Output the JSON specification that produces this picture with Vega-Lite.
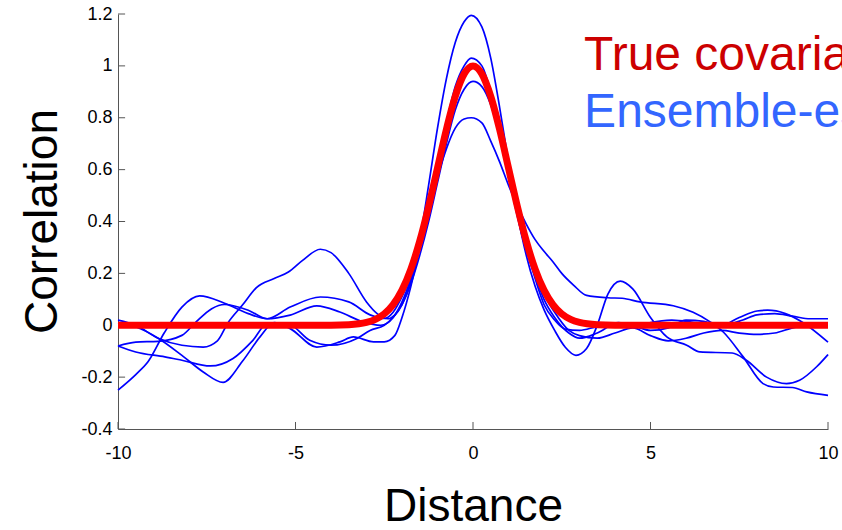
{
"$schema": "https://vega.github.io/schema/vega-lite/v6.json",
"width": 710, "height": 415,
"autosize": {"type": "none"},
"padding": {"left": 118, "top": 14, "right": 14, "bottom": 101},
"background": "white",
"config": {"view": {"stroke": null}, "font": "Liberation Sans"},
"datasets": {
"blue": [
{"s":"1","x":-10,"y":0.02},{"s":"1","x":-9.5,"y":0.0},{"s":"1","x":-8.87,"y":-0.05},{"s":"1","x":-8.2,"y":-0.077},{"s":"1","x":-7.6,"y":-0.084},{"s":"1","x":-7.2,"y":-0.06},{"s":"1","x":-6.9,"y":0.01},{"s":"1","x":-6.5,"y":0.077},{"s":"1","x":-6.1,"y":0.145},{"s":"1","x":-5.6,"y":0.18},{"s":"1","x":-5.2,"y":0.205},{"s":"1","x":-4.8,"y":0.25},{"s":"1","x":-4.3,"y":0.293},{"s":"1","x":-4.0,"y":0.28},{"s":"1","x":-3.5,"y":0.2},{"s":"1","x":-3.0,"y":0.09},{"s":"1","x":-2.7,"y":0.045},{"s":"1","x":-2.4,"y":0.025},{"s":"1","x":-2.2,"y":0.04},{"s":"1","x":-2.0,"y":0.08},{"s":"1","x":-1.75,"y":0.17},{"s":"1","x":-1.5,"y":0.33},{"s":"1","x":-1.25,"y":0.54},{"s":"1","x":-1.0,"y":0.76},{"s":"1","x":-0.75,"y":0.95},{"s":"1","x":-0.5,"y":1.09},{"s":"1","x":-0.25,"y":1.17},{"s":"1","x":-0.05,"y":1.195},{"s":"1","x":0.25,"y":1.15},{"s":"1","x":0.5,"y":1.03},{"s":"1","x":0.75,"y":0.84},{"s":"1","x":1.0,"y":0.63},{"s":"1","x":1.25,"y":0.43},{"s":"1","x":1.5,"y":0.27},{"s":"1","x":1.75,"y":0.15},{"s":"1","x":2.0,"y":0.06},{"s":"1","x":2.3,"y":-0.02},{"s":"1","x":2.6,"y":-0.085},{"s":"1","x":2.9,"y":-0.116},{"s":"1","x":3.2,"y":-0.09},{"s":"1","x":3.5,"y":0.0},{"s":"1","x":3.8,"y":0.12},{"s":"1","x":4.15,"y":0.17},{"s":"1","x":4.5,"y":0.14},{"s":"1","x":5.0,"y":0.03},{"s":"1","x":5.46,"y":-0.045},{"s":"1","x":6.02,"y":-0.077},{"s":"1","x":6.39,"y":-0.103},{"s":"1","x":7.3,"y":-0.107},{"s":"1","x":7.7,"y":-0.135},{"s":"1","x":8.27,"y":-0.2},{"s":"1","x":8.83,"y":-0.225},{"s":"1","x":9.2,"y":-0.212},{"s":"1","x":9.68,"y":-0.16},{"s":"1","x":10,"y":-0.113},
{"s":"2","x":-10,"y":-0.25},{"s":"2","x":-9.5,"y":-0.19},{"s":"2","x":-9.15,"y":-0.14},{"s":"2","x":-8.7,"y":-0.03},{"s":"2","x":-8.2,"y":0.07},{"s":"2","x":-7.7,"y":0.113},{"s":"2","x":-7.0,"y":0.085},{"s":"2","x":-6.33,"y":0.045},{"s":"2","x":-5.8,"y":0.025},{"s":"2","x":-5.15,"y":0.07},{"s":"2","x":-4.3,"y":0.109},{"s":"2","x":-3.5,"y":0.09},{"s":"2","x":-2.9,"y":0.04},{"s":"2","x":-2.5,"y":0.026},{"s":"2","x":-2.25,"y":0.05},{"s":"2","x":-2.0,"y":0.11},{"s":"2","x":-1.75,"y":0.19},{"s":"2","x":-1.5,"y":0.3},{"s":"2","x":-1.25,"y":0.43},{"s":"2","x":-1.0,"y":0.57},{"s":"2","x":-0.75,"y":0.68},{"s":"2","x":-0.5,"y":0.76},{"s":"2","x":-0.25,"y":0.795},{"s":"2","x":-0.05,"y":0.8},{"s":"2","x":0.25,"y":0.78},{"s":"2","x":0.5,"y":0.71},{"s":"2","x":0.75,"y":0.63},{"s":"2","x":1.0,"y":0.54},{"s":"2","x":1.25,"y":0.46},{"s":"2","x":1.5,"y":0.39},{"s":"2","x":1.75,"y":0.33},{"s":"2","x":2.0,"y":0.285},{"s":"2","x":2.25,"y":0.245},{"s":"2","x":2.5,"y":0.2},{"s":"2","x":2.83,"y":0.155},{"s":"2","x":3.2,"y":0.115},{"s":"2","x":3.8,"y":0.106},{"s":"2","x":4.2,"y":0.104},{"s":"2","x":4.7,"y":0.09},{"s":"2","x":5.64,"y":0.075},{"s":"2","x":6.2,"y":0.05},{"s":"2","x":6.68,"y":0.013},{"s":"2","x":7.05,"y":-0.026},{"s":"2","x":7.6,"y":-0.12},{"s":"2","x":8.17,"y":-0.225},{"s":"2","x":8.46,"y":-0.238},{"s":"2","x":9.0,"y":-0.24},{"s":"2","x":9.4,"y":-0.257},{"s":"2","x":10,"y":-0.27},
{"s":"3","x":-10,"y":-0.08},{"s":"3","x":-9.5,"y":-0.065},{"s":"3","x":-8.87,"y":-0.062},{"s":"3","x":-8.2,"y":-0.039},{"s":"3","x":-7.8,"y":0.013},{"s":"3","x":-7.36,"y":0.064},{"s":"3","x":-7.0,"y":0.08},{"s":"3","x":-6.33,"y":0.058},{"s":"3","x":-5.8,"y":0.025},{"s":"3","x":-5.15,"y":0.039},{"s":"3","x":-4.4,"y":0.075},{"s":"3","x":-3.75,"y":0.051},{"s":"3","x":-3.1,"y":0.013},{"s":"3","x":-2.6,"y":0.0},{"s":"3","x":-2.25,"y":0.03},{"s":"3","x":-2.0,"y":0.09},{"s":"3","x":-1.75,"y":0.18},{"s":"3","x":-1.5,"y":0.3},{"s":"3","x":-1.25,"y":0.45},{"s":"3","x":-1.0,"y":0.62},{"s":"3","x":-0.75,"y":0.78},{"s":"3","x":-0.5,"y":0.92},{"s":"3","x":-0.25,"y":1.0},{"s":"3","x":-0.05,"y":1.03},{"s":"3","x":0.25,"y":1.0},{"s":"3","x":0.5,"y":0.9},{"s":"3","x":0.75,"y":0.75},{"s":"3","x":1.0,"y":0.58},{"s":"3","x":1.25,"y":0.42},{"s":"3","x":1.5,"y":0.29},{"s":"3","x":1.75,"y":0.19},{"s":"3","x":2.0,"y":0.1},{"s":"3","x":2.3,"y":0.03},{"s":"3","x":2.7,"y":-0.03},{"s":"3","x":3.0,"y":-0.05},{"s":"3","x":3.5,"y":-0.03},{"s":"3","x":4.1,"y":0.01},{"s":"3","x":4.5,"y":0.0},{"s":"3","x":5.0,"y":-0.02},{"s":"3","x":5.5,"y":-0.01},{"s":"3","x":6.0,"y":0.02},{"s":"3","x":6.5,"y":0.015},{"s":"3","x":7.0,"y":0.0},{"s":"3","x":7.5,"y":0.03},{"s":"3","x":8.0,"y":0.055},{"s":"3","x":8.3,"y":0.058},{"s":"3","x":8.8,"y":0.045},{"s":"3","x":9.3,"y":0.01},{"s":"3","x":10,"y":-0.065},
{"s":"4","x":-10,"y":-0.08},{"s":"4","x":-9.5,"y":-0.103},{"s":"4","x":-8.68,"y":-0.122},{"s":"4","x":-8.2,"y":-0.135},{"s":"4","x":-7.4,"y":-0.157},{"s":"4","x":-6.76,"y":-0.128},{"s":"4","x":-6.2,"y":-0.058},{"s":"4","x":-5.8,"y":0.005},{"s":"4","x":-5.15,"y":0.0},{"s":"4","x":-4.6,"y":-0.058},{"s":"4","x":-4.0,"y":-0.077},{"s":"4","x":-3.27,"y":-0.051},{"s":"4","x":-2.9,"y":-0.02},{"s":"4","x":-2.5,"y":0.0},{"s":"4","x":-2.25,"y":0.03},{"s":"4","x":-2.0,"y":0.08},{"s":"4","x":-1.75,"y":0.16},{"s":"4","x":-1.5,"y":0.27},{"s":"4","x":-1.25,"y":0.4},{"s":"4","x":-1.0,"y":0.55},{"s":"4","x":-0.75,"y":0.7},{"s":"4","x":-0.5,"y":0.83},{"s":"4","x":-0.25,"y":0.91},{"s":"4","x":0.0,"y":0.94},{"s":"4","x":0.25,"y":0.92},{"s":"4","x":0.5,"y":0.85},{"s":"4","x":0.75,"y":0.73},{"s":"4","x":1.0,"y":0.59},{"s":"4","x":1.25,"y":0.44},{"s":"4","x":1.5,"y":0.3},{"s":"4","x":1.75,"y":0.18},{"s":"4","x":2.0,"y":0.08},{"s":"4","x":2.3,"y":0.02},{"s":"4","x":2.6,"y":-0.015},{"s":"4","x":3.0,"y":-0.02},{"s":"4","x":3.5,"y":-0.005},{"s":"4","x":4.1,"y":0.005},{"s":"4","x":4.6,"y":-0.005},{"s":"4","x":5.0,"y":0.01},{"s":"4","x":5.6,"y":0.02},{"s":"4","x":6.3,"y":0.01},{"s":"4","x":7.0,"y":0.0},{"s":"4","x":7.6,"y":0.02},{"s":"4","x":8.0,"y":0.04},{"s":"4","x":8.5,"y":0.045},{"s":"4","x":9.0,"y":0.035},{"s":"4","x":9.5,"y":0.025},{"s":"4","x":10,"y":0.025},
{"s":"5","x":-10,"y":0.01},{"s":"5","x":-9.5,"y":-0.006},{"s":"5","x":-8.87,"y":-0.05},{"s":"5","x":-8.2,"y":-0.116},{"s":"5","x":-7.6,"y":-0.18},{"s":"5","x":-7.04,"y":-0.22},{"s":"5","x":-6.5,"y":-0.14},{"s":"5","x":-6.0,"y":-0.045},{"s":"5","x":-5.6,"y":0.01},{"s":"5","x":-5.15,"y":-0.013},{"s":"5","x":-4.4,"y":-0.084},{"s":"5","x":-3.75,"y":-0.064},{"s":"5","x":-3.37,"y":-0.045},{"s":"5","x":-2.8,"y":-0.064},{"s":"5","x":-2.5,"y":-0.064},{"s":"5","x":-2.2,"y":-0.039},{"s":"5","x":-2.0,"y":0.03},{"s":"5","x":-1.75,"y":0.15},{"s":"5","x":-1.5,"y":0.3},{"s":"5","x":-1.25,"y":0.45},{"s":"5","x":-1.0,"y":0.6},{"s":"5","x":-0.75,"y":0.75},{"s":"5","x":-0.5,"y":0.88},{"s":"5","x":-0.25,"y":0.965},{"s":"5","x":0.0,"y":1.0},{"s":"5","x":0.25,"y":0.965},{"s":"5","x":0.5,"y":0.88},{"s":"5","x":0.75,"y":0.75},{"s":"5","x":1.0,"y":0.6},{"s":"5","x":1.25,"y":0.45},{"s":"5","x":1.5,"y":0.32},{"s":"5","x":1.75,"y":0.21},{"s":"5","x":2.0,"y":0.12},{"s":"5","x":2.3,"y":0.05},{"s":"5","x":2.7,"y":-0.02},{"s":"5","x":3.0,"y":-0.04},{"s":"5","x":3.5,"y":-0.05},{"s":"5","x":4.0,"y":-0.03},{"s":"5","x":4.5,"y":-0.01},{"s":"5","x":5.0,"y":-0.04},{"s":"5","x":5.5,"y":-0.06},{"s":"5","x":6.0,"y":-0.05},{"s":"5","x":6.5,"y":-0.03},{"s":"5","x":7.0,"y":-0.02},{"s":"5","x":7.5,"y":-0.03},{"s":"5","x":8.0,"y":-0.035},{"s":"5","x":8.5,"y":-0.03},{"s":"5","x":9.0,"y":-0.01},{"s":"5","x":9.5,"y":0.0},{"s":"5","x":10,"y":0.0}
],
"truth": [
{"x":-10,"y":0},{"x":-5,"y":0},{"x":-4,"y":0.0003},{"x":-3.5,"y":0.0022},{"x":-3,"y":0.0111},{"x":-2.75,"y":0.0228},{"x":-2.5,"y":0.0439},{"x":-2.25,"y":0.0796},{"x":-2,"y":0.1353},{"x":-1.75,"y":0.2163},{"x":-1.5,"y":0.3247},{"x":-1.25,"y":0.4578},{"x":-1,"y":0.6065},{"x":-0.75,"y":0.7548},{"x":-0.5,"y":0.8825},{"x":-0.25,"y":0.9692},{"x":0,"y":1},{"x":0.25,"y":0.9692},{"x":0.5,"y":0.8825},{"x":0.75,"y":0.7548},{"x":1,"y":0.6065},{"x":1.25,"y":0.4578},{"x":1.5,"y":0.3247},{"x":1.75,"y":0.2163},{"x":2,"y":0.1353},{"x":2.25,"y":0.0796},{"x":2.5,"y":0.0439},{"x":2.75,"y":0.0228},{"x":3,"y":0.0111},{"x":3.5,"y":0.0022},{"x":4,"y":0.0003},{"x":5,"y":0},{"x":10,"y":0}
],
"yticks": [{"v":-0.4},{"v":-0.2},{"v":0},{"v":0.2},{"v":0.4},{"v":0.6},{"v":0.8},{"v":1},{"v":1.2}],
"xticks": [{"v":-10},{"v":-5},{"v":0},{"v":5},{"v":10}],
"labels": [
{"label":"True covariance","x":3.13,"y":0.985},
{"label":"Ensemble-estimated","x":3.13,"y":0.765}
]
},
"layer": [
{"data":{"name":"blue"},
 "mark":{"type":"line","interpolate":"monotone","color":"#0000ff","strokeWidth":1.7},
 "encoding":{
  "x":{"field":"x","type":"quantitative","scale":{"domain":[-10,10],"nice":false,"zero":false},
   "axis":{"values":[-10,-5,0,5,10],"labelExpr":"toString(datum.value)","grid":false,"ticks":false,"title":"Distance","titleFontSize":46,"titleFontWeight":"normal","titleColor":"#000000","titleFont":"Liberation Sans","titleX":355,"titleY":91,"titleAlign":"center","titleBaseline":"alphabetic","labelFontSize":18,"labelColor":"#000000","labelFont":"Liberation Sans","labelPadding":15,"domainColor":"#555555","labelFlush":false,"labelOverlap":false}},
  "y":{"field":"y","type":"quantitative","scale":{"domain":[-0.4,1.2],"nice":false,"zero":false},
   "axis":{"values":[-0.4,-0.2,0,0.2,0.4,0.6,0.8,1,1.2],"labelExpr":"toString(round(datum.value*10)/10)","grid":false,"ticks":false,"title":"Correlation","titleFontSize":46,"titleFontWeight":"normal","titleColor":"#000000","titleFont":"Liberation Sans","titleX":-62,"titleY":207,"titleAngle":-90,"titleAlign":"center","titleBaseline":"alphabetic","labelFontSize":18,"labelColor":"#000000","labelFont":"Liberation Sans","labelPadding":6,"domainColor":"#555555","labelFlush":false,"labelOverlap":false}},
  "detail":{"field":"s","type":"nominal"}}},
{"data":{"name":"yticks"},
 "mark":{"type":"rule","color":"#555555","strokeWidth":1},
 "encoding":{"y":{"field":"v","type":"quantitative"},"x":{"datum":-10,"type":"quantitative"},"x2":{"datum":-9.8}}},
{"data":{"name":"xticks"},
 "mark":{"type":"rule","color":"#555555","strokeWidth":1},
 "encoding":{"x":{"field":"v","type":"quantitative"},"y":{"datum":-0.4,"type":"quantitative"},"y2":{"datum":-0.373}}},
{"data":{"name":"truth"},
 "mark":{"type":"line","interpolate":"monotone","color":"#ff0000","strokeWidth":7},
 "encoding":{"x":{"field":"x","type":"quantitative"},"y":{"field":"y","type":"quantitative"}}},
{"data":{"name":"labels"},
 "mark":{"type":"text","align":"left","baseline":"alphabetic","fontSize":48,"font":"Liberation Sans"},
 "encoding":{"x":{"field":"x","type":"quantitative"},"y":{"field":"y","type":"quantitative"},"text":{"field":"label"},
  "color":{"field":"label","type":"nominal","scale":{"domain":["True covariance","Ensemble-estimated"],"range":["#cc0000","#3366ff"]},"legend":null}}}
]
}
